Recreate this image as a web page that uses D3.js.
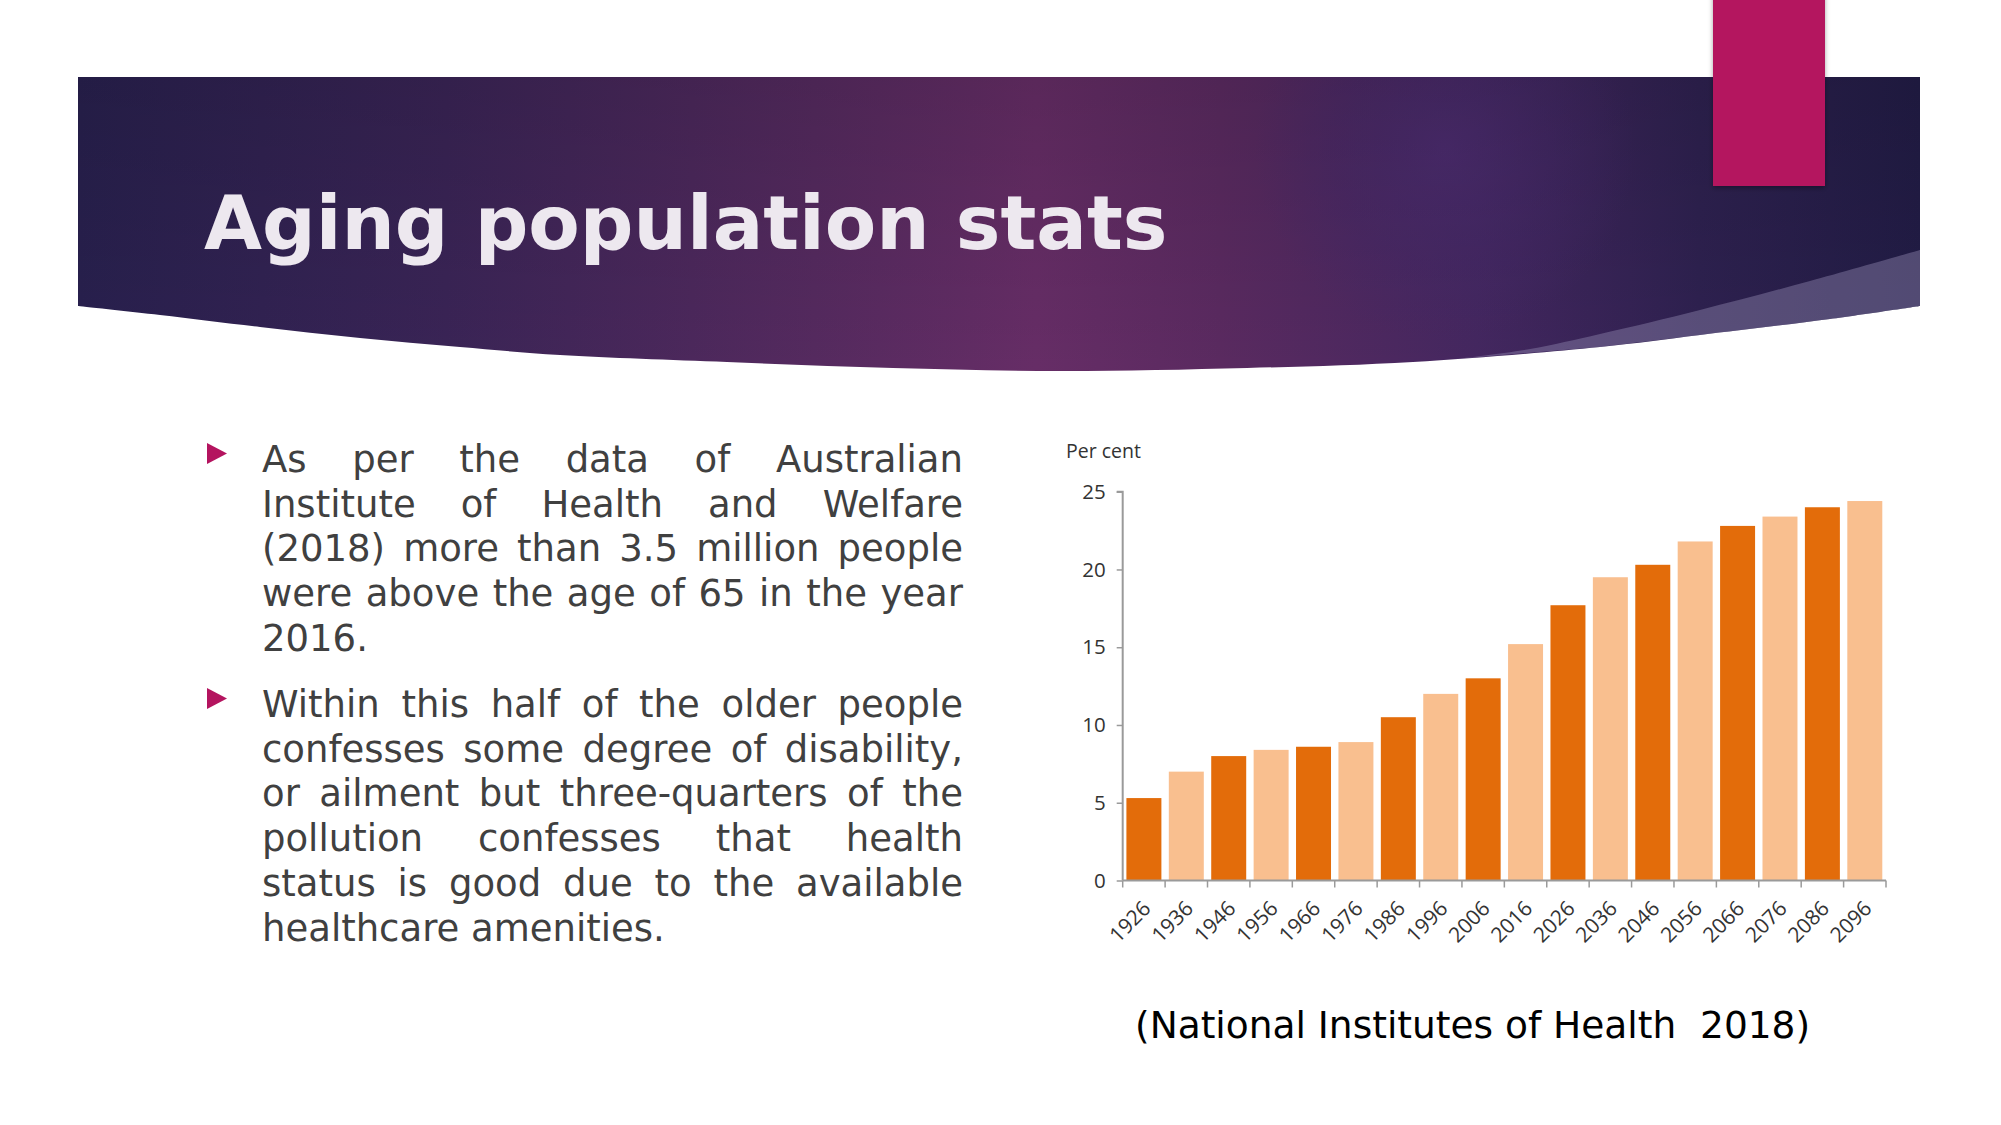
<!DOCTYPE html>
<html>
<head>
<meta charset="utf-8">
<script src="https://cdn.jsdelivr.net/npm/d3@7"></script>
<style>
  html, body { margin: 0; padding: 0; background: #ffffff; }
  svg { display: block; }
</style>
</head>
<body>
<svg id="slide" width="2001" height="1125"></svg>
<script>
// ---------- data ----------
const years = ["1926","1936","1946","1956","1966","1976","1986","1996","2006","2016","2026","2036","2046","2056","2066","2076","2086","2096"];
const values = [5.3, 7.0, 8.0, 8.4, 8.6, 8.9, 10.5, 12.0, 13.0, 15.2, 17.7, 19.5, 20.3, 21.8, 22.8, 23.4, 24.0, 24.4];
const yTicks = [0, 5, 10, 15, 20, 25];
const yLabel = "Per cent";
const titleText = "Aging population stats";
const paragraphs = [
  ["As per the data of Australian",
   "Institute of Health and Welfare",
   "(2018) more than 3.5 million people",
   "were above the age of 65 in the year",
   "2016."],
  ["Within this half of the older people",
   "confesses some degree of disability,",
   "or ailment but three-quarters of the",
   "pollution confesses that health",
   "status is good due to the available",
   "healthcare amenities."]
];
const citation = "(National Institutes of Health  2018)";

// ---------- styles ----------
const barColors = ["#E36C0A", "#F9BF8F"];
const svg = d3.select("#slide");
const defs = svg.append("defs");

// banner gradients
const lg = defs.append("linearGradient").attr("id", "bannerGrad")
  .attr("gradientUnits", "userSpaceOnUse").attr("x1", 78).attr("x2", 1920).attr("y1", 0).attr("y2", 0);
[[0, "#28204e"], [0.2, "#3a2456"], [0.4, "#552a5f"], [0.52, "#662d66"], [0.62, "#5a2a60"],
 [0.76, "#442760"], [0.88, "#2e2150"], [1, "#221c46"]]
  .forEach(([o, c]) => lg.append("stop").attr("offset", o).attr("stop-color", c));

const rg = defs.append("radialGradient").attr("id", "glow")
  .attr("gradientUnits", "userSpaceOnUse").attr("cx", 1445).attr("cy", 150).attr("r", 190);
rg.append("stop").attr("offset", 0).attr("stop-color", "#4c2c70").attr("stop-opacity", 0.85);
rg.append("stop").attr("offset", 0.6).attr("stop-color", "#45296a").attr("stop-opacity", 0.4);
rg.append("stop").attr("offset", 1).attr("stop-color", "#45296a").attr("stop-opacity", 0);

const vg = defs.append("linearGradient").attr("id", "vshade")
  .attr("gradientUnits", "userSpaceOnUse").attr("x1", 0).attr("x2", 0).attr("y1", 77).attr("y2", 371);
vg.append("stop").attr("offset", 0).attr("stop-color", "#000").attr("stop-opacity", 0.12);
vg.append("stop").attr("offset", 1).attr("stop-color", "#000").attr("stop-opacity", 0);

const shadow = defs.append("filter").attr("id", "shadow").attr("x", "-20%").attr("y", "-20%").attr("width", "140%").attr("height", "140%");
shadow.append("feDropShadow").attr("dx", 0).attr("dy", 2).attr("stdDeviation", 2.5)
  .attr("flood-color", "#000").attr("flood-opacity", 0.35);

// ---------- banner ----------
const bottomPts = [[78,306],[160,315],[260,327],[360,338],[460,347],[560,355],[727,362],[893,368],
  [1060,371],[1247,368],[1413,362],[1600,347],[1700,335],[1830,319],[1920,306]];
const lineGen = d3.line().curve(d3.curveCatmullRom.alpha(0.5));
const bannerD = "M78,77 L1920,77 L1920,306 " + lineGen(bottomPts.slice().reverse()).replace(/^M/, "L") + " Z";
svg.append("path").attr("d", bannerD).attr("fill", "url(#bannerGrad)");
svg.append("path").attr("d", bannerD).attr("fill", "url(#glow)");
svg.append("path").attr("d", bannerD).attr("fill", "url(#vshade)");

// lighter swoosh on the right
const swooshTop = [[1455,359],[1530,349],[1600,334],[1700,310],[1810,281],[1920,250]];
const swooshBottom = bottomPts.filter(p => p[0] >= 1455);
const swooshD = lineGen(swooshTop) + " L1920,306 " +
  lineGen(swooshBottom.slice().reverse()).replace(/^M/, "L") + " Z";
svg.append("path").attr("d", swooshD).attr("fill", "#8e84ad").attr("opacity", 0.45);

// title
svg.append("text").attr("x", 204).attr("y", 249)
  .attr("font-family", "DejaVu Sans").attr("font-weight", "bold").attr("font-size", 75)
  .attr("fill", "#EDE8EF").text(titleText);

// magenta tab
svg.append("rect").attr("x", 1713).attr("y", -10).attr("width", 112).attr("height", 196)
  .attr("fill", "#B4145F").attr("filter", "url(#shadow)");

// ---------- bullet text ----------
const textLeft = 262, textRight = 963, textW = textRight - textLeft;
const lineH = 44.7;
const paraStarts = [472, 717];
paragraphs.forEach((lines, pi) => {
  const by = paraStarts[pi];
  svg.append("path")
    .attr("d", `M207,${by - 29} L227,${by - 18.5} L207,${by - 8} Z`)
    .attr("fill", "#B4145F");
  lines.forEach((ln, li) => {
    const t = svg.append("text").attr("x", textLeft).attr("y", by + li * lineH)
      .attr("font-family", "DejaVu Sans").attr("font-size", 37).attr("fill", "#404040")
      .attr("xml:space", "preserve").text(ln);
    if (li < lines.length - 1) {
      const nat = t.node().getComputedTextLength();
      const spaces = (ln.match(/ /g) || []).length;
      if (spaces > 0) t.attr("word-spacing", (textW - nat) / spaces);
    }
  });
});

// citation
svg.append("text").attr("x", 1135).attr("y", 1038)
  .attr("font-family", "DejaVu Sans").attr("font-size", 37.5).attr("fill", "#000")
  .attr("xml:space", "preserve").text(citation);

// ---------- chart ----------
const x = d3.scaleBand().domain(years).range([1122.7, 1886]).paddingInner(0.175).paddingOuter(0.0875);
const y = d3.scaleLinear().domain([0, 25]).range([880.5, 491.7]);
const chart = svg.append("g");
const axisColor = "#9a9a9a";
const chartFont = "'Open Sans', 'Noto Sans', sans-serif";

chart.selectAll("rect.bar").data(values).enter().append("rect")
  .attr("class", "bar")
  .attr("x", (d, i) => x(years[i]))
  .attr("y", d => y(d))
  .attr("width", x.bandwidth())
  .attr("height", d => y(0) - y(d))
  .attr("fill", (d, i) => barColors[i % 2]);

// y axis
const yAxis = chart.append("g").attr("transform", `translate(${x.range()[0]},0)`)
  .call(d3.axisLeft(y).tickValues(yTicks).tickSize(6).tickPadding(11).tickFormat(d3.format("d")));
yAxis.select(".domain").attr("stroke", axisColor).attr("stroke-width", 2).attr("d", `M-6,${y(25)}H0V${y(0)}`);
yAxis.selectAll(".tick line").attr("stroke", axisColor).attr("stroke-width", 1.5);
yAxis.selectAll(".tick text").attr("font-family", chartFont).attr("font-size", 20.5).attr("fill", "#333");

// x axis (ticks at band boundaries)
const step = x.step();
const boundaries = years.map(d => x(d) - (step - x.bandwidth()) / 2).concat([x.range()[1]]);
const xAxisG = chart.append("g");
xAxisG.append("line").attr("x1", x.range()[0]).attr("x2", x.range()[1])
  .attr("y1", y(0)).attr("y2", y(0)).attr("stroke", axisColor).attr("stroke-width", 2);
xAxisG.selectAll("line.tk").data(boundaries).enter().append("line").attr("class", "tk")
  .attr("x1", d => d).attr("x2", d => d).attr("y1", y(0)).attr("y2", y(0) + 7)
  .attr("stroke", axisColor).attr("stroke-width", 1.5);
xAxisG.selectAll("text").data(years).enter().append("text")
  .attr("transform", d => `translate(${x(d) + x.bandwidth() / 2 + 3},${y(0) + 24}) rotate(-45)`)
  .attr("text-anchor", "end").attr("dy", "0.35em")
  .attr("font-family", chartFont).attr("font-size", 21).attr("fill", "#333")
  .text(d => d);

// y label
chart.append("text").attr("x", 1066).attr("y", 458)
  .attr("font-family", chartFont).attr("font-size", 19.5).attr("fill", "#333").text(yLabel);
</script>
</body>
</html>
